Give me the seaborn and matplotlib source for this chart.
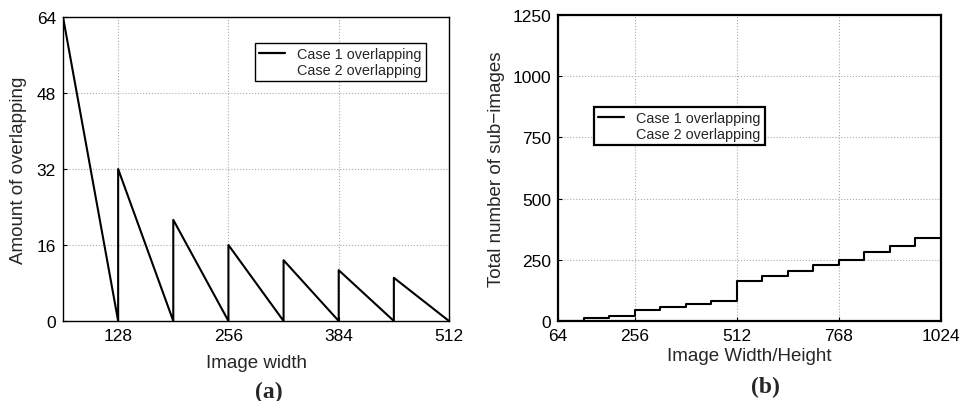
import numpy as np
import pandas as pd
import matplotlib
matplotlib.use("Agg")
import matplotlib.pyplot as plt
from matplotlib.lines import Line2D
import seaborn as sns

# panel (a): sawtooth of overlap amount vs image width
width_a = [64, 128, 128, 192, 192, 256, 256, 320, 320, 384, 384, 448, 448, 512]
overlap_a = [64, 0, 32, 0, 21.3, 0, 16, 0, 12.8, 0, 10.7, 0, 9.1, 0]

# panel (b): staircase of total sub-images vs image size
size_b = [64, 128, 192, 256, 320, 384, 448, 512, 576, 640, 704, 768, 832, 896, 960, 1024]
count_b = [1, 12, 20, 45, 56, 68, 82, 164, 184, 204, 228, 250, 280, 308, 340]

legend_labels = ["Case 1 overlapping", "Case 2 overlapping"]

sns.set_style("ticks")
plt.rcParams["font.family"] = ["Liberation Sans", "DejaVu Sans"]

fig = plt.figure(figsize=(9.69, 4.02), dpi=100)
ax1 = fig.add_axes([63 / 969, 1 - 322 / 402, (449 - 63) / 969, (322 - 18) / 402])
ax2 = fig.add_axes([558 / 969, 1 - 322 / 402, (941 - 558) / 969, (322 - 16) / 402])

df_a = pd.DataFrame({"w": width_a, "v": overlap_a})
sns.lineplot(data=df_a, x="w", y="v", ax=ax1, color="black", lw=1.5,
             estimator=None, sort=False)
ax1.set_xlim(64, 512)
ax1.set_ylim(0, 64)
ax1.set_xticks([128, 256, 384, 512])
ax1.set_yticks([0, 16, 32, 48, 64])
ax1.set_xlabel("Image width", fontsize=13.5, labelpad=8)
ax1.set_ylabel("Amount of overlapping", fontsize=13.5, labelpad=7)

df_b = pd.DataFrame({"s": size_b, "n": count_b + [count_b[-1]]})
sns.lineplot(data=df_b, x="s", y="n", ax=ax2, color="black", lw=1.5,
             estimator=None, sort=False, drawstyle="steps-post")
ax2.set_xlim(64, 1024)
ax2.set_ylim(0, 1250)
ax2.set_xticks([64, 256, 512, 768, 1024])
ax2.set_yticks([0, 250, 500, 750, 1000, 1250])
ax2.set_xlabel("Image Width/Height", fontsize=13.5, labelpad=3)
ax2.set_ylabel("Total number of sub\u2212images", fontsize=13.5, labelpad=5)

handles = [Line2D([], [], color="black", lw=1.6), Line2D([], [], color="white", lw=1.6)]
for ax, sw, loc in [(ax1, 1.0, (255, 44)), (ax2, 1.6, (594, 108))]:
    ax.grid(True, ls=":", color="#aaaaaa", lw=0.8)
    ax.tick_params(direction="in", length=3, labelsize=12.5, colors="black", pad=5)
    for sp in ax.spines.values():
        sp.set_visible(True)
        sp.set_color("black")
        sp.set_linewidth(sw)
    x0, y0 = loc
    leg = ax.legend(handles, legend_labels, loc="upper left",
                    bbox_to_anchor=(x0 / 969, 1 - y0 / 402), bbox_transform=fig.transFigure,
                    fontsize=10.4, frameon=True, fancybox=False, framealpha=1,
                    edgecolor="black", handlelength=1.8, handletextpad=0.8,
                    borderpad=0.3, labelspacing=0.1, borderaxespad=0)
    leg.get_frame().set_linewidth(sw)

fig.text(269 / 969, 1 - 392 / 402, "(a)", ha="center", va="center",
         fontsize=17, fontweight="bold", family="Liberation Serif")
fig.text(765 / 969, 1 - 387 / 402, "(b)", ha="center", va="center",
         fontsize=17, fontweight="bold", family="Liberation Serif")

fig.savefig("out.png", dpi=100)
